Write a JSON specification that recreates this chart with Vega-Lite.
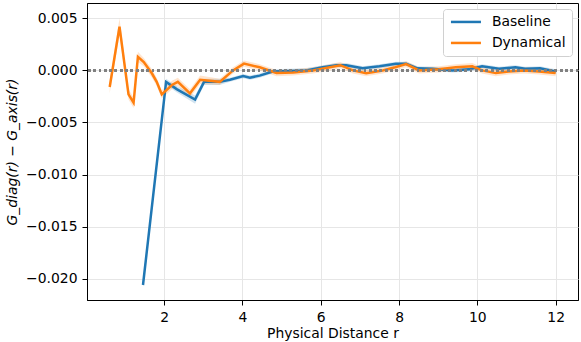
{
  "$schema": "https://vega.github.io/schema/vega-lite/v6.json",
  "autosize": "none",
  "width": 491,
  "height": 297,
  "padding": {"left": 87, "top": 3, "right": 3, "bottom": 42},
  "background": "white",
  "config": {
    "font": "DejaVu Sans",
    "view": {"stroke": "black", "strokeWidth": 1},
    "axis": {
      "labelFont": "DejaVu Sans", "titleFont": "DejaVu Sans",
      "labelFontSize": 13.9, "titleFontSize": 13.9,
      "labelColor": "black", "titleColor": "black",
      "titleFontWeight": "normal",
      "domainColor": "black", "tickColor": "black",
      "tickSize": 5, "labelPadding": 5,
      "gridColor": "#e6e6e6", "gridWidth": 1
    },
    "legend": {
      "labelFont": "DejaVu Sans", "labelFontSize": 13.9, "labelColor": "black"
    }
  },
  "data": {
    "values": [
      {"series": "Baseline", "r": 1.46, "g": -0.0206, "lo": -0.0208, "hi": -0.0204},
      {"series": "Baseline", "r": 2.05, "g": -0.0011, "lo": -0.0014, "hi": -0.0008},
      {"series": "Baseline", "r": 2.32, "g": -0.0018, "lo": -0.0021, "hi": -0.0015},
      {"series": "Baseline", "r": 2.79, "g": -0.0028, "lo": -0.0032, "hi": -0.0024},
      {"series": "Baseline", "r": 3.02, "g": -0.0011, "lo": -0.0014, "hi": -0.0008},
      {"series": "Baseline", "r": 3.42, "g": -0.0011, "lo": -0.0014, "hi": -0.0008},
      {"series": "Baseline", "r": 3.68, "g": -0.0009, "lo": -0.0011, "hi": -0.0007},
      {"series": "Baseline", "r": 4.02, "g": -0.00055, "lo": -0.00075, "hi": -0.00035},
      {"series": "Baseline", "r": 4.19, "g": -0.0007, "lo": -0.0009, "hi": -0.0005},
      {"series": "Baseline", "r": 4.44, "g": -0.0005, "lo": -0.0007, "hi": -0.0003},
      {"series": "Baseline", "r": 4.77, "g": -0.0001, "lo": -0.0003, "hi": 0.0001},
      {"series": "Baseline", "r": 5.2, "g": -0.00005, "lo": -0.00025, "hi": 0.00015},
      {"series": "Baseline", "r": 5.63, "g": 0.0, "lo": -0.0002, "hi": 0.0002},
      {"series": "Baseline", "r": 6.05, "g": 0.0003, "lo": 0.0001, "hi": 0.0005},
      {"series": "Baseline", "r": 6.4, "g": 0.0005, "lo": 0.0003, "hi": 0.0007},
      {"series": "Baseline", "r": 6.65, "g": 0.0005, "lo": 0.0003, "hi": 0.0007},
      {"series": "Baseline", "r": 7.07, "g": 0.0002, "lo": 0.0, "hi": 0.0004},
      {"series": "Baseline", "r": 7.5, "g": 0.0004, "lo": 0.0002, "hi": 0.0006},
      {"series": "Baseline", "r": 7.92, "g": 0.00064, "lo": 0.00044, "hi": 0.00084},
      {"series": "Baseline", "r": 8.18, "g": 0.00064, "lo": 0.00044, "hi": 0.00084},
      {"series": "Baseline", "r": 8.47, "g": 0.0002, "lo": 0.0, "hi": 0.0004},
      {"series": "Baseline", "r": 8.85, "g": 0.00016, "lo": -0.00004, "hi": 0.00036},
      {"series": "Baseline", "r": 9.36, "g": 0.0, "lo": -0.0002, "hi": 0.0002},
      {"series": "Baseline", "r": 9.79, "g": 0.0001, "lo": -0.0001, "hi": 0.0003},
      {"series": "Baseline", "r": 10.12, "g": 0.0004, "lo": 0.0002, "hi": 0.0006},
      {"series": "Baseline", "r": 10.55, "g": 0.00016, "lo": -0.00004, "hi": 0.00036},
      {"series": "Baseline", "r": 10.97, "g": 0.0003, "lo": 0.0001, "hi": 0.0005},
      {"series": "Baseline", "r": 11.22, "g": 0.00016, "lo": -0.00004, "hi": 0.00036},
      {"series": "Baseline", "r": 11.6, "g": 0.0002, "lo": 0.0, "hi": 0.0004},
      {"series": "Baseline", "r": 12.0, "g": -0.0001, "lo": -0.0003, "hi": 0.0001},
      {"series": "Dynamical", "r": 0.61, "g": -0.0016, "lo": -0.0022, "hi": -0.001},
      {"series": "Dynamical", "r": 0.86, "g": 0.0042, "lo": 0.0034, "hi": 0.005},
      {"series": "Dynamical", "r": 1.09, "g": -0.0023, "lo": -0.0028, "hi": -0.0018},
      {"series": "Dynamical", "r": 1.22, "g": -0.0031, "lo": -0.0036, "hi": -0.0026},
      {"series": "Dynamical", "r": 1.33, "g": 0.0013, "lo": 0.0008, "hi": 0.0018},
      {"series": "Dynamical", "r": 1.48, "g": 0.0008, "lo": 0.0004, "hi": 0.0012},
      {"series": "Dynamical", "r": 1.69, "g": -0.0003, "lo": -0.0007, "hi": 0.0001},
      {"series": "Dynamical", "r": 1.81, "g": -0.0011, "lo": -0.0015, "hi": -0.0007},
      {"series": "Dynamical", "r": 1.94, "g": -0.0023, "lo": -0.0027, "hi": -0.0019},
      {"series": "Dynamical", "r": 2.2, "g": -0.0014, "lo": -0.0018, "hi": -0.001},
      {"series": "Dynamical", "r": 2.35, "g": -0.0011, "lo": -0.0015, "hi": -0.0007},
      {"series": "Dynamical", "r": 2.66, "g": -0.0022, "lo": -0.0026, "hi": -0.0018},
      {"series": "Dynamical", "r": 2.92, "g": -0.0009, "lo": -0.0013, "hi": -0.0005},
      {"series": "Dynamical", "r": 3.42, "g": -0.0011, "lo": -0.0014, "hi": -0.0008},
      {"series": "Dynamical", "r": 3.76, "g": 0.0, "lo": -0.0003, "hi": 0.0003},
      {"series": "Dynamical", "r": 4.04, "g": 0.00065, "lo": 0.00035, "hi": 0.00095},
      {"series": "Dynamical", "r": 4.44, "g": 0.0003, "lo": 0.0, "hi": 0.0006},
      {"series": "Dynamical", "r": 4.87, "g": -0.00025, "lo": -0.00055, "hi": 0.00005},
      {"series": "Dynamical", "r": 5.3, "g": -0.0002, "lo": -0.0005, "hi": 0.0001},
      {"series": "Dynamical", "r": 5.8, "g": 0.0, "lo": -0.0003, "hi": 0.0003},
      {"series": "Dynamical", "r": 6.1, "g": 0.0002, "lo": -0.0001, "hi": 0.0005},
      {"series": "Dynamical", "r": 6.5, "g": 0.0005, "lo": 0.0002, "hi": 0.0008},
      {"series": "Dynamical", "r": 6.82, "g": 0.0, "lo": -0.0003, "hi": 0.0003},
      {"series": "Dynamical", "r": 7.16, "g": -0.00026, "lo": -0.00056, "hi": 0.00004},
      {"series": "Dynamical", "r": 7.58, "g": 0.0, "lo": -0.0003, "hi": 0.0003},
      {"series": "Dynamical", "r": 7.9, "g": 0.0003, "lo": 0.0, "hi": 0.0006},
      {"series": "Dynamical", "r": 8.18, "g": 0.0006, "lo": 0.0003, "hi": 0.0009},
      {"series": "Dynamical", "r": 8.51, "g": 0.0, "lo": -0.0003, "hi": 0.0003},
      {"series": "Dynamical", "r": 9.02, "g": 0.0001, "lo": -0.0002, "hi": 0.0004},
      {"series": "Dynamical", "r": 9.45, "g": 0.0003, "lo": 0.0, "hi": 0.0006},
      {"series": "Dynamical", "r": 9.87, "g": 0.0004, "lo": 0.0001, "hi": 0.0007},
      {"series": "Dynamical", "r": 10.12, "g": 0.0, "lo": -0.0003, "hi": 0.0003},
      {"series": "Dynamical", "r": 10.47, "g": -0.00026, "lo": -0.00056, "hi": 0.00004},
      {"series": "Dynamical", "r": 10.8, "g": -0.0001, "lo": -0.0004, "hi": 0.0002},
      {"series": "Dynamical", "r": 11.2, "g": 0.0, "lo": -0.0003, "hi": 0.0003},
      {"series": "Dynamical", "r": 11.57, "g": -0.0001, "lo": -0.0004, "hi": 0.0002},
      {"series": "Dynamical", "r": 12.0, "g": -0.00026, "lo": -0.00056, "hi": 0.00004}
    ]
  },
  "resolve": {"legend": {"color": "independent"}},
  "layer": [
    {
      "mark": {"type": "area", "opacity": 0.2},
      "encoding": {
        "x": {
          "field": "r", "type": "quantitative",
          "scale": {"domain": [0.03, 12.57], "nice": false, "zero": false},
          "axis": {"title": "Physical Distance r", "values": [2, 4, 6, 8, 10, 12], "format": "d", "titlePadding": 3}
        },
        "y": {
          "field": "lo", "type": "quantitative",
          "scale": {"domain": [-0.02204, 0.00647], "nice": false, "zero": false},
          "axis": {"title": "G_diag(r) − G_axis(r)", "titleFontStyle": "italic", "values": [-0.02, -0.015, -0.01, -0.005, 0, 0.005], "format": ".3f", "titlePadding": 6}
        },
        "y2": {"field": "hi"},
        "color": {
          "field": "series", "type": "nominal",
          "scale": {"domain": ["Baseline", "Dynamical"], "range": ["#1f77b4", "#ff7f0e"]},
          "legend": null
        }
      }
    },
    {
      "mark": {"type": "line", "strokeWidth": 2.5},
      "encoding": {
        "x": {"field": "r", "type": "quantitative"},
        "y": {"field": "g", "type": "quantitative"},
        "color": {
          "field": "series", "type": "nominal",
          "legend": {
            "title": null, "orient": "top-right", "offset": 6,
            "fillColor": "white", "strokeColor": "#d0d0d0", "cornerRadius": 3,
            "padding": 6, "symbolType": "M-3,0H3", "symbolSize": 100,
            "symbolStrokeWidth": 2.5, "symbolOffset": 10, "rowPadding": 6, "labelOffset": 19
          }
        }
      }
    },
    {
      "mark": {"type": "rule", "color": "#808080", "strokeWidth": 2, "strokeDash": [2, 3.3]},
      "encoding": {"y": {"datum": 0}}
    }
  ]
}
